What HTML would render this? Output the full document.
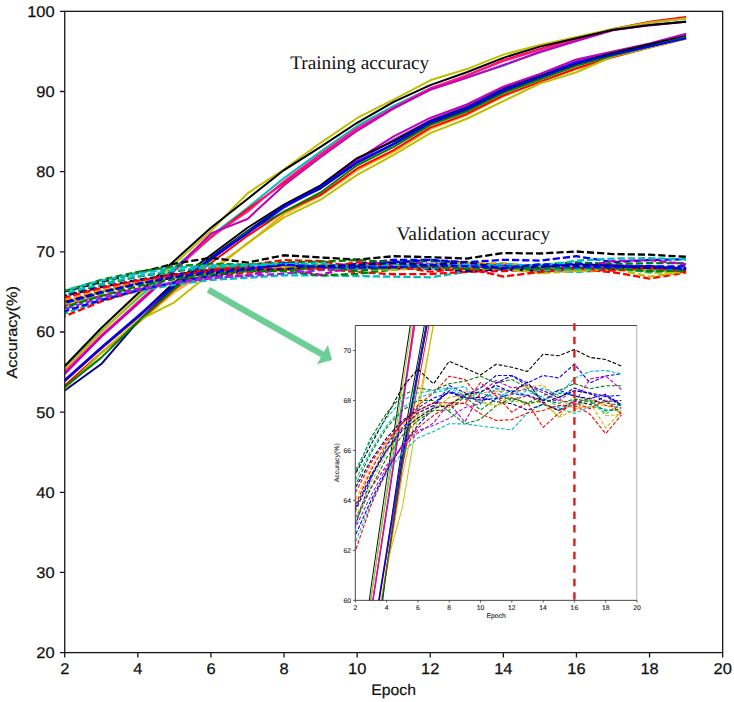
<!DOCTYPE html><html><head><meta charset="utf-8"><style>html,body{margin:0;padding:0;background:#fff;width:734px;height:702px;overflow:hidden}svg{display:block}text{font-family:"Liberation Sans",sans-serif;text-rendering:geometricPrecision}</style></head><body>
<svg width="734" height="702" viewBox="0 0 734 702">
<defs><clipPath id="mc"><rect x="64.8" y="11.3" width="657.9" height="641.2"/></clipPath>
<clipPath id="ic"><rect x="355.3" y="325.5" width="281.7" height="274.9"/></clipPath></defs>
<g clip-path="url(#mc)" fill="none" stroke-linejoin="round">
<polyline points="64.75,368.05 101.30,331.17 137.85,298.31 174.40,267.85 210.95,235.79 247.50,207.73 284.05,178.08 320.60,151.62 357.15,125.97 393.70,105.93 430.25,88.30 466.80,77.08 503.35,65.86 539.90,51.43 576.45,39.81 613.00,29.79 649.55,24.98 686.10,21.37" stroke="#00bfbf" stroke-width="2.0"/>
<polyline points="64.75,372.05 101.30,335.98 137.85,302.32 174.40,269.45 210.95,237.39 247.50,209.34 284.05,182.88 320.60,154.83 357.15,128.38 393.70,108.34 430.25,89.10 466.80,75.48 503.35,60.25 539.90,49.02 576.45,38.60 613.00,28.98 649.55,21.77 686.10,16.96" stroke="#ff0000" stroke-width="2.0"/>
<polyline points="64.75,371.65 101.30,335.18 137.85,303.12 174.40,271.06 210.95,236.59 247.50,211.74 284.05,181.28 320.60,154.03 357.15,128.38 393.70,107.54 430.25,88.30 466.80,75.48 503.35,61.05 539.90,49.83 576.45,39.40 613.00,29.39 649.55,22.57 686.10,18.16" stroke="#ff1493" stroke-width="2.0"/>
<polyline points="64.75,374.06 101.30,336.78 137.85,303.92 174.40,270.25 210.95,233.38 247.50,218.95 284.05,185.29 320.60,157.23 357.15,130.78 393.70,108.34 430.25,89.90 466.80,77.88 503.35,65.05 539.90,52.23 576.45,41.01 613.00,30.19 649.55,25.38 686.10,21.77" stroke="#bf00bf" stroke-width="2.0"/>
<polyline points="64.75,368.85 101.30,331.98 137.85,296.71 174.40,263.84 210.95,230.98 247.50,193.30 284.05,169.26 320.60,142.81 357.15,117.96 393.70,99.52 430.25,80.28 466.80,69.06 503.35,54.63 539.90,45.02 576.45,37.00 613.00,28.98 649.55,22.57 686.10,18.56" stroke="#bfbf00" stroke-width="2.0"/>
<polyline points="64.75,366.04 101.30,327.97 137.85,293.50 174.40,260.64 210.95,227.77 247.50,198.92 284.05,170.06 320.60,146.81 357.15,122.77 393.70,101.93 430.25,85.09 466.80,72.27 503.35,57.84 539.90,46.62 576.45,38.20 613.00,29.79 649.55,24.98 686.10,21.77" stroke="#000000" stroke-width="2.0"/>
<polyline points="64.75,386.08 101.30,352.82 137.85,323.16 174.40,291.90 210.95,269.45 247.50,243.80 284.05,214.15 320.60,195.71 357.15,170.06 393.70,151.62 430.25,129.18 466.80,114.75 503.35,96.32 539.90,81.89 576.45,69.06 613.00,57.04 649.55,47.42 686.10,38.60" stroke="#ffa500" stroke-width="2.0"/>
<polyline points="64.75,385.68 101.30,352.82 137.85,322.36 174.40,289.49 210.95,263.04 247.50,235.79 284.05,211.74 320.60,194.91 357.15,168.46 393.70,150.02 430.25,127.58 466.80,113.95 503.35,95.51 539.90,81.89 576.45,68.26 613.00,57.04 649.55,47.42 686.10,38.60" stroke="#ff0000" stroke-width="2.0"/>
<polyline points="64.75,380.87 101.30,348.01 137.85,317.55 174.40,287.09 210.95,259.83 247.50,232.58 284.05,207.73 320.60,187.69 357.15,161.24 393.70,139.60 430.25,120.36 466.80,105.93 503.35,88.30 539.90,75.48 576.45,61.05 613.00,52.23 649.55,44.21 686.10,35.40" stroke="#8a2be2" stroke-width="2.0"/>
<polyline points="64.75,381.27 101.30,348.41 137.85,317.55 174.40,286.29 210.95,259.03 247.50,231.78 284.05,206.93 320.60,186.89 357.15,159.64 393.70,136.39 430.25,117.96 466.80,104.33 503.35,86.70 539.90,73.87 576.45,59.44 613.00,51.43 649.55,43.41 686.10,33.79" stroke="#bf00bf" stroke-width="2.0"/>
<polyline points="64.75,380.47 101.30,348.01 137.85,316.75 174.40,282.28 210.95,255.03 247.50,227.77 284.05,204.53 320.60,185.29 357.15,158.04 393.70,141.20 430.25,121.16 466.80,107.54 503.35,89.10 539.90,76.28 576.45,62.65 613.00,53.03 649.55,44.21 686.10,36.20" stroke="#000000" stroke-width="2.0"/>
<polyline points="64.75,390.49 101.30,364.04 137.85,321.55 174.40,287.09 210.95,257.43 247.50,230.98 284.05,206.13 320.60,188.50 357.15,162.85 393.70,144.41 430.25,123.57 466.80,109.94 503.35,91.51 539.90,77.88 576.45,64.25 613.00,54.63 649.55,45.82 686.10,37.80" stroke="#000080" stroke-width="2.0"/>
<polyline points="64.75,388.89 101.30,352.82 137.85,320.75 174.40,302.32 210.95,272.66 247.50,243.00 284.05,217.35 320.60,199.72 357.15,174.87 393.70,154.83 430.25,133.19 466.80,118.76 503.35,101.12 539.90,83.49 576.45,72.27 613.00,56.24 649.55,47.42 686.10,38.60" stroke="#bfbf00" stroke-width="2.0"/>
<polyline points="64.75,386.88 101.30,357.63 137.85,321.55 174.40,288.69 210.95,259.83 247.50,231.78 284.05,211.74 320.60,192.50 357.15,165.25 393.70,146.81 430.25,125.17 466.80,111.55 503.35,93.11 539.90,79.48 576.45,65.86 613.00,55.44 649.55,46.62 686.10,37.00" stroke="#008000" stroke-width="2.0"/>
<polyline points="64.75,380.07 101.30,347.20 137.85,315.94 174.40,284.68 210.95,259.03 247.50,233.38 284.05,206.93 320.60,186.89 357.15,162.04 393.70,143.61 430.25,121.97 466.80,108.34 503.35,89.90 539.90,77.08 576.45,62.65 613.00,54.63 649.55,46.62 686.10,38.20" stroke="#0000ff" stroke-width="2.0"/>
<polyline points="64.75,291.50 101.30,282.04 137.85,272.90 174.40,263.68 210.95,257.83 247.50,262.56 284.05,255.27 320.60,257.43 357.15,259.67 393.70,256.23 430.25,257.19 466.80,258.55 503.35,253.02 539.90,253.50 576.45,251.50 613.00,254.06 649.55,254.70 686.10,256.79" stroke="#000000" stroke-width="2.3" stroke-dasharray="7.2 3.0" stroke-dashoffset="2.43"/>
<polyline points="64.75,307.93 101.30,292.70 137.85,282.28 174.40,275.06 210.95,270.25 247.50,267.05 284.05,265.45 320.60,266.25 357.15,263.84 393.70,259.83 430.25,259.83 466.80,262.24 503.35,259.83 539.90,260.64 576.45,256.23 613.00,262.24 649.55,259.99 686.10,259.27" stroke="#0000ff" stroke-width="2.3" stroke-dasharray="7.2 3.0" stroke-dashoffset="5.55"/>
<polyline points="64.75,313.54 101.30,300.71 137.85,291.10 174.40,284.68 210.95,279.87 247.50,277.79 284.05,275.30 320.60,275.38 357.15,276.03 393.70,276.67 430.25,277.31 466.80,271.86 503.35,269.05 539.90,270.25 576.45,272.02 613.00,269.85 649.55,270.66 686.10,271.30" stroke="#00bfbf" stroke-width="2.3" stroke-dasharray="7.2 3.0" stroke-dashoffset="3.77"/>
<polyline points="64.75,316.18 101.30,301.52 137.85,290.29 174.40,282.28 210.95,276.67 247.50,272.66 284.05,269.45 320.60,268.65 357.15,272.10 393.70,274.26 430.25,274.02 466.80,271.86 503.35,271.06 539.90,269.45 576.45,269.37 613.00,272.26 649.55,278.51 686.10,272.50" stroke="#ff0000" stroke-width="2.3" stroke-dasharray="7.2 3.0" stroke-dashoffset="6.16"/>
<polyline points="64.75,295.10 101.30,284.68 137.85,276.67 174.40,271.06 210.95,267.85 247.50,267.85 284.05,271.38 320.60,275.38 357.15,273.86 393.70,269.53 430.25,267.05 466.80,268.65 503.35,266.25 539.90,264.64 576.45,262.40 613.00,264.08 649.55,263.12 686.10,263.12" stroke="#008000" stroke-width="2.3" stroke-dasharray="7.2 3.0" stroke-dashoffset="6.38"/>
<polyline points="64.75,305.52 101.30,295.90 137.85,288.69 174.40,283.08 210.95,278.27 247.50,275.06 284.05,268.65 320.60,274.82 357.15,265.45 393.70,261.44 430.25,263.84 466.80,263.04 503.35,265.45 539.90,267.85 576.45,268.65 613.00,260.96 649.55,259.99 686.10,264.32" stroke="#bf00bf" stroke-width="2.3" stroke-dasharray="7.2 3.0" stroke-dashoffset="0.67"/>
<polyline points="64.75,301.52 101.30,290.29 137.85,281.48 174.40,275.06 210.95,269.45 247.50,265.45 284.05,260.07 320.60,261.12 357.15,267.29 393.70,265.45 430.25,267.85 466.80,266.25 503.35,268.65 539.90,271.06 576.45,269.05 613.00,267.05 649.55,269.45 686.10,270.25" stroke="#ff0000" stroke-width="2.3" stroke-dasharray="7.2 3.0" stroke-dashoffset="0.13"/>
<polyline points="64.75,291.10 101.30,279.87 137.85,271.86 174.40,266.25 210.95,263.84 247.50,264.64 284.05,262.48 320.60,261.68 357.15,260.07 393.70,262.24 430.25,261.12 466.80,263.84 503.35,267.85 539.90,265.45 576.45,266.25 613.00,267.85 649.55,268.65 686.10,269.45" stroke="#008000" stroke-width="2.3" stroke-dasharray="7.2 3.0" stroke-dashoffset="8.54"/>
<polyline points="64.75,311.13 101.30,299.91 137.85,290.29 174.40,282.28 210.95,275.87 247.50,270.25 284.05,263.04 320.60,265.37 357.15,268.65 393.70,262.24 430.25,259.91 466.80,263.04 503.35,264.64 539.90,267.05 576.45,263.84 613.00,265.77 649.55,266.49 686.10,266.25" stroke="#0000ff" stroke-width="2.3" stroke-dasharray="7.2 3.0" stroke-dashoffset="2.65"/>
<polyline points="64.75,303.92 101.30,291.90 137.85,283.08 174.40,276.67 210.95,272.66 247.50,270.25 284.05,268.89 320.60,266.73 357.15,265.45 393.70,264.80 430.25,265.37 466.80,262.56 503.35,268.01 539.90,273.14 576.45,267.13 613.00,268.57 649.55,276.67 686.10,271.46" stroke="#bfbf00" stroke-width="2.3" stroke-dasharray="7.2 3.0" stroke-dashoffset="2.39"/>
<polyline points="64.75,299.91 101.30,289.49 137.85,281.48 174.40,275.87 210.95,271.86 247.50,269.45 284.05,270.17 320.60,264.48 357.15,268.33 393.70,269.61 430.25,265.93 466.80,263.60 503.35,262.96 539.90,267.21 576.45,270.58 613.00,269.77 649.55,269.29 686.10,271.94" stroke="#ffa500" stroke-width="2.3" stroke-dasharray="7.2 3.0" stroke-dashoffset="10.16"/>
<polyline points="64.75,290.29 101.30,280.67 137.85,273.46 174.40,267.85 210.95,265.45 247.50,264.64 284.05,263.84 320.60,266.25 357.15,265.45 393.70,267.05 430.25,264.64 466.80,266.25 503.35,263.84 539.90,266.25 576.45,260.72 613.00,258.55 649.55,258.23 686.10,259.27" stroke="#00bfbf" stroke-width="2.3" stroke-dasharray="7.2 3.0" stroke-dashoffset="4.80"/>
<polyline points="64.75,308.73 101.30,298.31 137.85,289.49 174.40,282.28 210.95,277.47 247.50,275.87 284.05,273.62 320.60,270.09 357.15,268.89 393.70,264.08 430.25,264.96 466.80,264.32 503.35,267.77 539.90,267.85 576.45,264.64 613.00,265.37 649.55,266.49 686.10,269.13" stroke="#8a2be2" stroke-width="2.3" stroke-dasharray="7.2 3.0" stroke-dashoffset="8.53"/>
<polyline points="64.75,295.90 101.30,287.09 137.85,279.87 174.40,274.26 210.95,271.06 247.50,268.65 284.05,265.04 320.60,267.45 357.15,266.73 393.70,268.25 430.25,268.89 466.80,270.98 503.35,269.05 539.90,271.06 576.45,267.93 613.00,269.21 649.55,266.33 686.10,269.69" stroke="#000080" stroke-width="2.3" stroke-dasharray="7.2 3.0" stroke-dashoffset="4.86"/>
<polyline points="64.75,306.32 101.30,294.30 137.85,284.68 174.40,277.47 210.95,273.46 247.50,271.06 284.05,266.89 320.60,265.93 357.15,268.25 393.70,269.45 430.25,267.93 466.80,268.81 503.35,268.33 539.90,273.22 576.45,271.06 613.00,267.13 649.55,272.74 686.10,272.34" stroke="#bfbf00" stroke-width="2.3" stroke-dasharray="7.2 3.0" stroke-dashoffset="6.52"/>
<polyline points="64.75,297.51 101.30,287.89 137.85,280.67 174.40,275.06 210.95,271.06 247.50,268.65 284.05,268.57 320.60,268.81 357.15,262.08 393.70,266.41 430.25,271.62 466.80,268.49 503.35,276.51 539.90,271.94 576.45,268.57 613.00,270.50 649.55,267.53 686.10,272.18" stroke="#ff0000" stroke-width="2.3" stroke-dasharray="7.2 3.0" stroke-dashoffset="1.54"/>
<polyline points="64.75,293.50 101.30,283.88 137.85,275.87 174.40,270.25 210.95,267.05 247.50,265.45 284.05,264.24 320.60,263.36 357.15,269.13 393.70,263.84 430.25,268.41 466.80,264.32 503.35,267.05 539.90,269.93 576.45,269.37 613.00,267.77 649.55,272.18 686.10,268.89" stroke="#00bfbf" stroke-width="2.3" stroke-dasharray="7.2 3.0" stroke-dashoffset="6.48"/>
<polyline points="64.75,302.32 101.30,291.90 137.85,283.88 174.40,277.47 210.95,273.46 247.50,270.25 284.05,269.45 320.60,266.01 357.15,265.04 393.70,263.04 430.25,265.29 466.80,261.92 503.35,268.65 539.90,266.81 576.45,264.72 613.00,265.61 649.55,268.17 686.10,267.85" stroke="#000080" stroke-width="2.3" stroke-dasharray="7.2 3.0" stroke-dashoffset="8.85"/>
<polyline points="64.75,307.13 101.30,295.90 137.85,286.29 174.40,279.07 210.95,274.26 247.50,271.06 284.05,270.98 320.60,266.57 357.15,270.90 393.70,267.29 430.25,266.97 466.80,268.89 503.35,267.69 539.90,268.73 576.45,267.45 613.00,268.17 649.55,271.22 686.10,270.58" stroke="#008000" stroke-width="2.3" stroke-dasharray="7.2 3.0" stroke-dashoffset="5.34"/>
<polyline points="64.75,303.12 101.30,292.70 137.85,283.88 174.40,276.67 210.95,271.86 247.50,269.45 284.05,264.72 320.60,266.89 357.15,267.69 393.70,267.21 430.25,265.69 466.80,266.17 503.35,267.93 539.90,264.48 576.45,266.49 613.00,267.29 649.55,265.85 686.10,269.29" stroke="#0000ff" stroke-width="2.3" stroke-dasharray="7.2 3.0" stroke-dashoffset="7.56"/>
</g>
<rect x="64.75" y="11.35" width="657.90" height="641.25" fill="none" stroke="#161616" stroke-width="1.3"/>
<path d="M59.90 652.60H64.75 M59.90 572.44H64.75 M59.90 492.29H64.75 M59.90 412.13H64.75 M59.90 331.98H64.75 M59.90 251.82H64.75 M59.90 171.66H64.75 M59.90 91.51H64.75 M59.90 11.35H64.75 M64.75 652.60V657.60 M137.85 652.60V657.60 M210.95 652.60V657.60 M284.05 652.60V657.60 M357.15 652.60V657.60 M430.25 652.60V657.60 M503.35 652.60V657.60 M576.45 652.60V657.60 M649.55 652.60V657.60 M722.65 652.60V657.60" stroke="#161616" stroke-width="1.3" fill="none"/>
<text x="54.60" y="658.00" font-size="15.5" text-anchor="end" fill="#111" stroke="#111" stroke-width="0.25" textLength="18.30" lengthAdjust="spacingAndGlyphs">20</text>
<text x="54.60" y="577.84" font-size="15.5" text-anchor="end" fill="#111" stroke="#111" stroke-width="0.25" textLength="18.30" lengthAdjust="spacingAndGlyphs">30</text>
<text x="54.60" y="497.69" font-size="15.5" text-anchor="end" fill="#111" stroke="#111" stroke-width="0.25" textLength="18.30" lengthAdjust="spacingAndGlyphs">40</text>
<text x="54.60" y="417.53" font-size="15.5" text-anchor="end" fill="#111" stroke="#111" stroke-width="0.25" textLength="18.30" lengthAdjust="spacingAndGlyphs">50</text>
<text x="54.60" y="337.38" font-size="15.5" text-anchor="end" fill="#111" stroke="#111" stroke-width="0.25" textLength="18.30" lengthAdjust="spacingAndGlyphs">60</text>
<text x="54.60" y="257.22" font-size="15.5" text-anchor="end" fill="#111" stroke="#111" stroke-width="0.25" textLength="18.30" lengthAdjust="spacingAndGlyphs">70</text>
<text x="54.60" y="177.06" font-size="15.5" text-anchor="end" fill="#111" stroke="#111" stroke-width="0.25" textLength="18.30" lengthAdjust="spacingAndGlyphs">80</text>
<text x="54.60" y="96.91" font-size="15.5" text-anchor="end" fill="#111" stroke="#111" stroke-width="0.25" textLength="18.30" lengthAdjust="spacingAndGlyphs">90</text>
<text x="54.60" y="16.75" font-size="15.5" text-anchor="end" fill="#111" stroke="#111" stroke-width="0.25" textLength="27.45" lengthAdjust="spacingAndGlyphs">100</text>
<text x="64.75" y="674.40" font-size="15.5" text-anchor="middle" fill="#111" stroke="#111" stroke-width="0.25" textLength="9.15" lengthAdjust="spacingAndGlyphs">2</text>
<text x="137.85" y="674.40" font-size="15.5" text-anchor="middle" fill="#111" stroke="#111" stroke-width="0.25" textLength="9.15" lengthAdjust="spacingAndGlyphs">4</text>
<text x="210.95" y="674.40" font-size="15.5" text-anchor="middle" fill="#111" stroke="#111" stroke-width="0.25" textLength="9.15" lengthAdjust="spacingAndGlyphs">6</text>
<text x="284.05" y="674.40" font-size="15.5" text-anchor="middle" fill="#111" stroke="#111" stroke-width="0.25" textLength="9.15" lengthAdjust="spacingAndGlyphs">8</text>
<text x="357.15" y="674.40" font-size="15.5" text-anchor="middle" fill="#111" stroke="#111" stroke-width="0.25" textLength="18.30" lengthAdjust="spacingAndGlyphs">10</text>
<text x="430.25" y="674.40" font-size="15.5" text-anchor="middle" fill="#111" stroke="#111" stroke-width="0.25" textLength="18.30" lengthAdjust="spacingAndGlyphs">12</text>
<text x="503.35" y="674.40" font-size="15.5" text-anchor="middle" fill="#111" stroke="#111" stroke-width="0.25" textLength="18.30" lengthAdjust="spacingAndGlyphs">14</text>
<text x="576.45" y="674.40" font-size="15.5" text-anchor="middle" fill="#111" stroke="#111" stroke-width="0.25" textLength="18.30" lengthAdjust="spacingAndGlyphs">16</text>
<text x="649.55" y="674.40" font-size="15.5" text-anchor="middle" fill="#111" stroke="#111" stroke-width="0.25" textLength="18.30" lengthAdjust="spacingAndGlyphs">18</text>
<text x="722.65" y="674.40" font-size="15.5" text-anchor="middle" fill="#111" stroke="#111" stroke-width="0.25" textLength="18.30" lengthAdjust="spacingAndGlyphs">20</text>
<text x="393.6" y="695.0" font-size="15.3" text-anchor="middle" fill="#111" stroke="#111" stroke-width="0.2" textLength="44.6" lengthAdjust="spacingAndGlyphs">Epoch</text>
<text transform="translate(16.9 332.3) rotate(-90)" x="0" y="0" font-size="14.8" text-anchor="middle" fill="#111" stroke="#111" stroke-width="0.2" textLength="92.5" lengthAdjust="spacingAndGlyphs">Accuracy(%)</text>
<text x="290.2" y="69.4" font-size="19.3" fill="#111" style="font-family:'Liberation Serif',serif">Training accuracy</text>
<text x="396.5" y="240.0" font-size="19.3" textLength="153.6" lengthAdjust="spacingAndGlyphs" fill="#111" style="font-family:'Liberation Serif',serif">Validation accuracy</text>
<polygon points="206.77,292.40 320.90,357.26 317.00,364.13 332.00,360.00 327.87,345.00 323.97,351.87 209.83,287.00" fill="#6ccd95"/>
<rect x="355.3" y="325.5" width="281.7" height="274.9" fill="#fff"/>
<g clip-path="url(#ic)" fill="none" stroke-linejoin="round">
<polyline points="355.30,712.79 370.95,597.85 386.60,495.41 402.25,400.46 417.90,300.51 433.55,213.06 449.20,120.61 464.85,38.16 480.50,-41.80 496.15,-104.27 511.80,-159.24 527.45,-194.22 543.10,-229.20 558.75,-274.17 574.40,-310.40 590.05,-341.64 605.70,-356.63 621.35,-367.87" stroke="#00bfbf" stroke-width="0.95"/>
<polyline points="355.30,725.28 370.95,612.84 386.60,507.90 402.25,405.46 417.90,305.51 433.55,218.06 449.20,135.60 464.85,48.15 480.50,-34.30 496.15,-96.77 511.80,-156.74 527.45,-199.21 543.10,-246.69 558.75,-281.67 574.40,-314.15 590.05,-344.13 605.70,-366.62 621.35,-381.61" stroke="#ff0000" stroke-width="0.95"/>
<polyline points="355.30,724.03 370.95,610.34 386.60,510.40 402.25,410.45 417.90,303.01 433.55,225.55 449.20,130.61 464.85,45.65 480.50,-34.30 496.15,-99.27 511.80,-159.24 527.45,-199.21 543.10,-244.19 558.75,-279.17 574.40,-311.65 590.05,-342.89 605.70,-364.12 621.35,-377.87" stroke="#ff1493" stroke-width="0.95"/>
<polyline points="355.30,731.53 370.95,615.34 386.60,512.90 402.25,407.95 417.90,293.02 433.55,248.04 449.20,143.10 464.85,55.65 480.50,-26.81 496.15,-96.77 511.80,-154.24 527.45,-191.72 543.10,-231.70 558.75,-271.67 574.40,-306.65 590.05,-340.39 605.70,-355.38 621.35,-366.62" stroke="#bf00bf" stroke-width="0.95"/>
<polyline points="355.30,715.29 370.95,600.35 386.60,490.41 402.25,387.97 417.90,285.52 433.55,168.09 449.20,93.13 464.85,10.67 480.50,-66.79 496.15,-124.25 511.80,-184.22 527.45,-219.20 543.10,-264.18 558.75,-294.16 574.40,-319.15 590.05,-344.13 605.70,-364.12 621.35,-376.62" stroke="#bfbf00" stroke-width="0.95"/>
<polyline points="355.30,706.54 370.95,587.86 386.60,480.42 402.25,377.97 417.90,275.53 433.55,185.58 449.20,95.63 464.85,23.17 480.50,-51.79 496.15,-116.76 511.80,-169.23 527.45,-209.21 543.10,-254.18 558.75,-289.16 574.40,-315.40 590.05,-341.64 605.70,-356.63 621.35,-366.62" stroke="#000000" stroke-width="0.95"/>
<polyline points="355.30,769.01 370.95,665.31 386.60,572.87 402.25,475.42 417.90,405.46 433.55,325.50 449.20,233.05 464.85,175.58 480.50,95.63 496.15,38.16 511.80,-31.80 527.45,-76.78 543.10,-134.25 558.75,-179.22 574.40,-219.20 590.05,-256.68 605.70,-286.67 621.35,-314.15" stroke="#ffa500" stroke-width="0.95"/>
<polyline points="355.30,767.76 370.95,665.31 386.60,570.37 402.25,467.92 417.90,385.47 433.55,300.51 449.20,225.55 464.85,173.08 480.50,90.63 496.15,33.16 511.80,-36.80 527.45,-79.28 543.10,-136.75 558.75,-179.22 574.40,-221.70 590.05,-256.68 605.70,-286.67 621.35,-314.15" stroke="#ff0000" stroke-width="0.95"/>
<polyline points="355.30,752.77 370.95,650.32 386.60,555.37 402.25,460.43 417.90,375.47 433.55,290.52 449.20,213.06 464.85,150.60 480.50,68.14 496.15,0.68 511.80,-59.29 527.45,-104.27 543.10,-159.24 558.75,-199.21 574.40,-244.19 590.05,-271.67 605.70,-296.66 621.35,-324.15" stroke="#8a2be2" stroke-width="0.95"/>
<polyline points="355.30,754.02 370.95,651.57 386.60,555.37 402.25,457.93 417.90,372.97 433.55,288.02 449.20,210.56 464.85,148.10 480.50,63.14 496.15,-9.32 511.80,-66.79 527.45,-109.26 543.10,-164.23 558.75,-204.21 574.40,-249.19 590.05,-274.17 605.70,-299.16 621.35,-329.14" stroke="#bf00bf" stroke-width="0.95"/>
<polyline points="355.30,751.52 370.95,650.32 386.60,552.88 402.25,445.43 417.90,360.48 433.55,275.53 449.20,203.07 464.85,143.10 480.50,58.15 496.15,5.67 511.80,-56.79 527.45,-99.27 543.10,-156.74 558.75,-196.72 574.40,-239.19 590.05,-269.18 605.70,-296.66 621.35,-321.65" stroke="#000000" stroke-width="0.95"/>
<polyline points="355.30,782.75 370.95,700.30 386.60,567.87 402.25,460.43 417.90,367.98 433.55,285.52 449.20,208.06 464.85,153.09 480.50,73.14 496.15,15.67 511.80,-49.30 527.45,-91.77 543.10,-149.24 558.75,-191.72 574.40,-234.19 590.05,-264.18 605.70,-291.66 621.35,-316.65" stroke="#000080" stroke-width="0.95"/>
<polyline points="355.30,777.75 370.95,665.31 386.60,565.37 402.25,507.90 417.90,415.45 433.55,323.00 449.20,243.05 464.85,188.07 480.50,110.62 496.15,48.15 511.80,-19.31 527.45,-64.29 543.10,-119.26 558.75,-174.23 574.40,-209.21 590.05,-259.18 605.70,-286.67 621.35,-314.15" stroke="#bfbf00" stroke-width="0.95"/>
<polyline points="355.30,771.51 370.95,680.31 386.60,567.87 402.25,465.42 417.90,375.47 433.55,288.02 449.20,225.55 464.85,165.59 480.50,80.63 496.15,23.17 511.80,-44.30 527.45,-86.78 543.10,-144.24 558.75,-186.72 574.40,-229.20 590.05,-261.68 605.70,-289.16 621.35,-319.15" stroke="#008000" stroke-width="0.95"/>
<polyline points="355.30,750.27 370.95,647.82 386.60,550.38 402.25,452.93 417.90,372.97 433.55,293.02 449.20,210.56 464.85,148.10 480.50,70.64 496.15,13.17 511.80,-54.29 527.45,-96.77 543.10,-154.24 558.75,-194.22 574.40,-239.19 590.05,-264.18 605.70,-289.16 621.35,-315.40" stroke="#0000ff" stroke-width="0.95"/>
<polyline points="355.30,474.17 370.95,444.68 386.60,416.20 402.25,387.47 417.90,369.23 433.55,383.97 449.20,361.23 464.85,367.98 480.50,374.97 496.15,364.23 511.80,367.23 527.45,371.47 543.10,354.23 558.75,355.73 574.40,349.49 590.05,357.48 605.70,359.48 621.35,365.98" stroke="#000000" stroke-width="1.1" stroke-dasharray="3.7 1.8" stroke-dashoffset="3.69"/>
<polyline points="355.30,525.39 370.95,477.92 386.60,445.43 402.25,422.95 417.90,407.95 433.55,397.96 449.20,392.96 464.85,395.46 480.50,387.97 496.15,375.47 511.80,375.47 527.45,382.97 543.10,375.47 558.75,377.97 574.40,364.23 590.05,382.97 605.70,375.97 621.35,373.72" stroke="#0000ff" stroke-width="1.1" stroke-dasharray="3.7 1.8" stroke-dashoffset="0.35"/>
<polyline points="355.30,542.88 370.95,502.90 386.60,472.92 402.25,452.93 417.90,437.94 433.55,431.44 449.20,423.70 464.85,423.95 480.50,425.95 496.15,427.94 511.80,429.94 527.45,412.95 543.10,404.21 558.75,407.95 574.40,413.45 590.05,406.71 605.70,409.20 621.35,411.20" stroke="#00bfbf" stroke-width="1.1" stroke-dasharray="3.7 1.8" stroke-dashoffset="4.17"/>
<polyline points="355.30,551.13 370.95,505.40 386.60,470.42 402.25,445.43 417.90,427.94 433.55,415.45 449.20,405.46 464.85,402.96 480.50,413.70 496.15,420.45 511.80,419.70 527.45,412.95 543.10,410.45 558.75,405.46 574.40,405.21 590.05,414.20 605.70,433.69 621.35,414.95" stroke="#ff0000" stroke-width="1.1" stroke-dasharray="3.7 1.8" stroke-dashoffset="3.25"/>
<polyline points="355.30,485.41 370.95,452.93 386.60,427.94 402.25,410.45 417.90,400.46 433.55,400.46 449.20,411.45 464.85,423.95 480.50,419.20 496.15,405.71 511.80,397.96 527.45,402.96 543.10,395.46 558.75,390.46 574.40,383.47 590.05,388.72 605.70,385.72 621.35,385.72" stroke="#008000" stroke-width="1.1" stroke-dasharray="3.7 1.8" stroke-dashoffset="1.66"/>
<polyline points="355.30,517.90 370.95,487.91 386.60,465.42 402.25,447.93 417.90,432.94 433.55,422.95 449.20,402.96 464.85,422.20 480.50,392.96 496.15,380.47 511.80,387.97 527.45,385.47 543.10,392.96 558.75,400.46 574.40,402.96 590.05,378.97 605.70,375.97 621.35,389.47" stroke="#bf00bf" stroke-width="1.1" stroke-dasharray="3.7 1.8" stroke-dashoffset="0.17"/>
<polyline points="355.30,505.40 370.95,470.42 386.60,442.94 402.25,422.95 417.90,405.46 433.55,392.96 449.20,376.22 464.85,379.47 480.50,398.71 496.15,392.96 511.80,400.46 527.45,395.46 543.10,402.96 558.75,410.45 574.40,404.21 590.05,397.96 605.70,405.46 621.35,407.95" stroke="#ff0000" stroke-width="1.1" stroke-dasharray="3.7 1.8" stroke-dashoffset="4.76"/>
<polyline points="355.30,472.92 370.95,437.94 386.60,412.95 402.25,395.46 417.90,387.97 433.55,390.46 449.20,383.72 464.85,381.22 480.50,376.22 496.15,382.97 511.80,379.47 527.45,387.97 543.10,400.46 558.75,392.96 574.40,395.46 590.05,400.46 605.70,402.96 621.35,405.46" stroke="#008000" stroke-width="1.1" stroke-dasharray="3.7 1.8" stroke-dashoffset="2.60"/>
<polyline points="355.30,535.39 370.95,500.40 386.60,470.42 402.25,445.43 417.90,425.45 433.55,407.95 449.20,385.47 464.85,392.71 480.50,402.96 496.15,382.97 511.80,375.72 527.45,385.47 543.10,390.46 558.75,397.96 574.40,387.97 590.05,393.96 605.70,396.21 621.35,395.46" stroke="#0000ff" stroke-width="1.1" stroke-dasharray="3.7 1.8" stroke-dashoffset="3.95"/>
<polyline points="355.30,512.90 370.95,475.42 386.60,447.93 402.25,427.94 417.90,415.45 433.55,407.95 449.20,403.71 464.85,396.96 480.50,392.96 496.15,390.96 511.80,392.71 527.45,383.97 543.10,400.96 558.75,416.95 574.40,398.21 590.05,402.71 605.70,427.94 621.35,411.70" stroke="#bfbf00" stroke-width="1.1" stroke-dasharray="3.7 1.8" stroke-dashoffset="4.83"/>
<polyline points="355.30,500.40 370.95,467.92 386.60,442.94 402.25,425.45 417.90,412.95 433.55,405.46 449.20,407.71 464.85,389.96 480.50,401.96 496.15,405.96 511.80,394.46 527.45,387.22 543.10,385.22 558.75,398.46 574.40,408.95 590.05,406.46 605.70,404.96 621.35,413.20" stroke="#ffa500" stroke-width="1.1" stroke-dasharray="3.7 1.8" stroke-dashoffset="3.93"/>
<polyline points="355.30,470.42 370.95,440.44 386.60,417.95 402.25,400.46 417.90,392.96 433.55,390.46 449.20,387.97 464.85,395.46 480.50,392.96 496.15,397.96 511.80,390.46 527.45,395.46 543.10,387.97 558.75,395.46 574.40,378.22 590.05,371.47 605.70,370.48 621.35,373.72" stroke="#00bfbf" stroke-width="1.1" stroke-dasharray="3.7 1.8" stroke-dashoffset="5.07"/>
<polyline points="355.30,527.89 370.95,495.41 386.60,467.92 402.25,445.43 417.90,430.44 433.55,425.45 449.20,418.45 464.85,407.46 480.50,403.71 496.15,388.72 511.80,391.46 527.45,389.47 543.10,400.21 558.75,400.46 574.40,390.46 590.05,392.71 605.70,396.21 621.35,404.46" stroke="#8a2be2" stroke-width="1.1" stroke-dasharray="3.7 1.8" stroke-dashoffset="2.17"/>
<polyline points="355.30,487.91 370.95,460.43 386.60,437.94 402.25,420.45 417.90,410.45 433.55,402.96 449.20,391.71 464.85,399.21 480.50,396.96 496.15,401.71 511.80,403.71 527.45,410.20 543.10,404.21 558.75,410.45 574.40,400.71 590.05,404.71 605.70,395.71 621.35,406.21" stroke="#000080" stroke-width="1.1" stroke-dasharray="3.7 1.8" stroke-dashoffset="4.40"/>
<polyline points="355.30,520.39 370.95,482.91 386.60,452.93 402.25,430.44 417.90,417.95 433.55,410.45 449.20,397.46 464.85,394.46 480.50,401.71 496.15,405.46 511.80,400.71 527.45,403.46 543.10,401.96 558.75,417.20 574.40,410.45 590.05,398.21 605.70,415.70 621.35,414.45" stroke="#bfbf00" stroke-width="1.1" stroke-dasharray="3.7 1.8" stroke-dashoffset="2.45"/>
<polyline points="355.30,492.91 370.95,462.93 386.60,440.44 402.25,422.95 417.90,410.45 433.55,402.96 449.20,402.71 464.85,403.46 480.50,382.47 496.15,395.96 511.80,412.20 527.45,402.46 543.10,427.44 558.75,413.20 574.40,402.71 590.05,408.70 605.70,399.46 621.35,413.95" stroke="#ff0000" stroke-width="1.1" stroke-dasharray="3.7 1.8" stroke-dashoffset="5.15"/>
<polyline points="355.30,480.42 370.95,450.43 386.60,425.45 402.25,407.95 417.90,397.96 433.55,392.96 449.20,389.22 464.85,386.47 480.50,404.46 496.15,387.97 511.80,402.21 527.45,389.47 543.10,397.96 558.75,406.96 574.40,405.21 590.05,400.21 605.70,413.95 621.35,403.71" stroke="#00bfbf" stroke-width="1.1" stroke-dasharray="3.7 1.8" stroke-dashoffset="4.83"/>
<polyline points="355.30,507.90 370.95,475.42 386.60,450.43 402.25,430.44 417.90,417.95 433.55,407.95 449.20,405.46 464.85,394.71 480.50,391.71 496.15,385.47 511.80,392.46 527.45,381.97 543.10,402.96 558.75,397.21 574.40,390.71 590.05,393.46 605.70,401.46 621.35,400.46" stroke="#000080" stroke-width="1.1" stroke-dasharray="3.7 1.8" stroke-dashoffset="0.54"/>
<polyline points="355.30,522.89 370.95,487.91 386.60,457.93 402.25,435.44 417.90,420.45 433.55,410.45 449.20,410.20 464.85,396.46 480.50,409.95 496.15,398.71 511.80,397.71 527.45,403.71 543.10,399.96 558.75,403.21 574.40,399.21 590.05,401.46 605.70,410.95 621.35,408.95" stroke="#008000" stroke-width="1.1" stroke-dasharray="3.7 1.8" stroke-dashoffset="0.75"/>
<polyline points="355.30,510.40 370.95,477.92 386.60,450.43 402.25,427.94 417.90,412.95 433.55,405.46 449.20,390.71 464.85,397.46 480.50,399.96 496.15,398.46 511.80,393.71 527.45,395.21 543.10,400.71 558.75,389.96 574.40,396.21 590.05,398.71 605.70,394.21 621.35,404.96" stroke="#0000ff" stroke-width="1.1" stroke-dasharray="3.7 1.8" stroke-dashoffset="1.19"/>
</g>
<path d="M355.30 600.35V325.50H637.00" fill="none" stroke="#333" stroke-width="0.9"/>
<path d="M355.30 600.35H637.00" fill="none" stroke="#333" stroke-width="0.9"/>
<path d="M636.75 325.50V600.35" fill="none" stroke="#aaa" stroke-width="0.9"/>
<line x1="574.40" y1="323.2" x2="574.40" y2="600.2" stroke="#d81e1e" stroke-width="2.4" stroke-dasharray="7.5 5.95"/>
<path d="M353.1 600.35H355.3 M353.1 550.38H355.3 M353.1 500.40H355.3 M353.1 450.43H355.3 M353.1 400.46H355.3 M353.1 350.49H355.3 M355.30 600.4V602.6 M386.60 600.4V602.6 M417.90 600.4V602.6 M449.20 600.4V602.6 M480.50 600.4V602.6 M511.80 600.4V602.6 M543.10 600.4V602.6 M574.40 600.4V602.6 M605.70 600.4V602.6 M637.00 600.4V602.6" stroke="#333" stroke-width="0.8" fill="none"/>
<text x="351" y="602.75" font-size="6.8" text-anchor="end" fill="#2a2a2a" stroke="#2a2a2a" stroke-width="0.12">60</text>
<text x="351" y="552.78" font-size="6.8" text-anchor="end" fill="#2a2a2a" stroke="#2a2a2a" stroke-width="0.12">62</text>
<text x="351" y="502.80" font-size="6.8" text-anchor="end" fill="#2a2a2a" stroke="#2a2a2a" stroke-width="0.12">64</text>
<text x="351" y="452.83" font-size="6.8" text-anchor="end" fill="#2a2a2a" stroke="#2a2a2a" stroke-width="0.12">66</text>
<text x="351" y="402.86" font-size="6.8" text-anchor="end" fill="#2a2a2a" stroke="#2a2a2a" stroke-width="0.12">68</text>
<text x="351" y="352.89" font-size="6.8" text-anchor="end" fill="#2a2a2a" stroke="#2a2a2a" stroke-width="0.12">70</text>
<text x="355.30" y="609.6" font-size="6.8" text-anchor="middle" fill="#2a2a2a" stroke="#2a2a2a" stroke-width="0.12">2</text>
<text x="386.60" y="609.6" font-size="6.8" text-anchor="middle" fill="#2a2a2a" stroke="#2a2a2a" stroke-width="0.12">4</text>
<text x="417.90" y="609.6" font-size="6.8" text-anchor="middle" fill="#2a2a2a" stroke="#2a2a2a" stroke-width="0.12">6</text>
<text x="449.20" y="609.6" font-size="6.8" text-anchor="middle" fill="#2a2a2a" stroke="#2a2a2a" stroke-width="0.12">8</text>
<text x="480.50" y="609.6" font-size="6.8" text-anchor="middle" fill="#2a2a2a" stroke="#2a2a2a" stroke-width="0.12">10</text>
<text x="511.80" y="609.6" font-size="6.8" text-anchor="middle" fill="#2a2a2a" stroke="#2a2a2a" stroke-width="0.12">12</text>
<text x="543.10" y="609.6" font-size="6.8" text-anchor="middle" fill="#2a2a2a" stroke="#2a2a2a" stroke-width="0.12">14</text>
<text x="574.40" y="609.6" font-size="6.8" text-anchor="middle" fill="#2a2a2a" stroke="#2a2a2a" stroke-width="0.12">16</text>
<text x="605.70" y="609.6" font-size="6.8" text-anchor="middle" fill="#2a2a2a" stroke="#2a2a2a" stroke-width="0.12">18</text>
<text x="637.00" y="609.6" font-size="6.8" text-anchor="middle" fill="#2a2a2a" stroke="#2a2a2a" stroke-width="0.12">20</text>
<text x="496.2" y="617.6" font-size="6.8" text-anchor="middle" fill="#2a2a2a" stroke="#2a2a2a" stroke-width="0.12">Epoch</text>
<text transform="translate(338.7 462.8) rotate(-90)" font-size="6.6" text-anchor="middle" fill="#2a2a2a" stroke="#2a2a2a" stroke-width="0.12" textLength="39" lengthAdjust="spacingAndGlyphs">Accuracy(%)</text>
</svg></body></html>
